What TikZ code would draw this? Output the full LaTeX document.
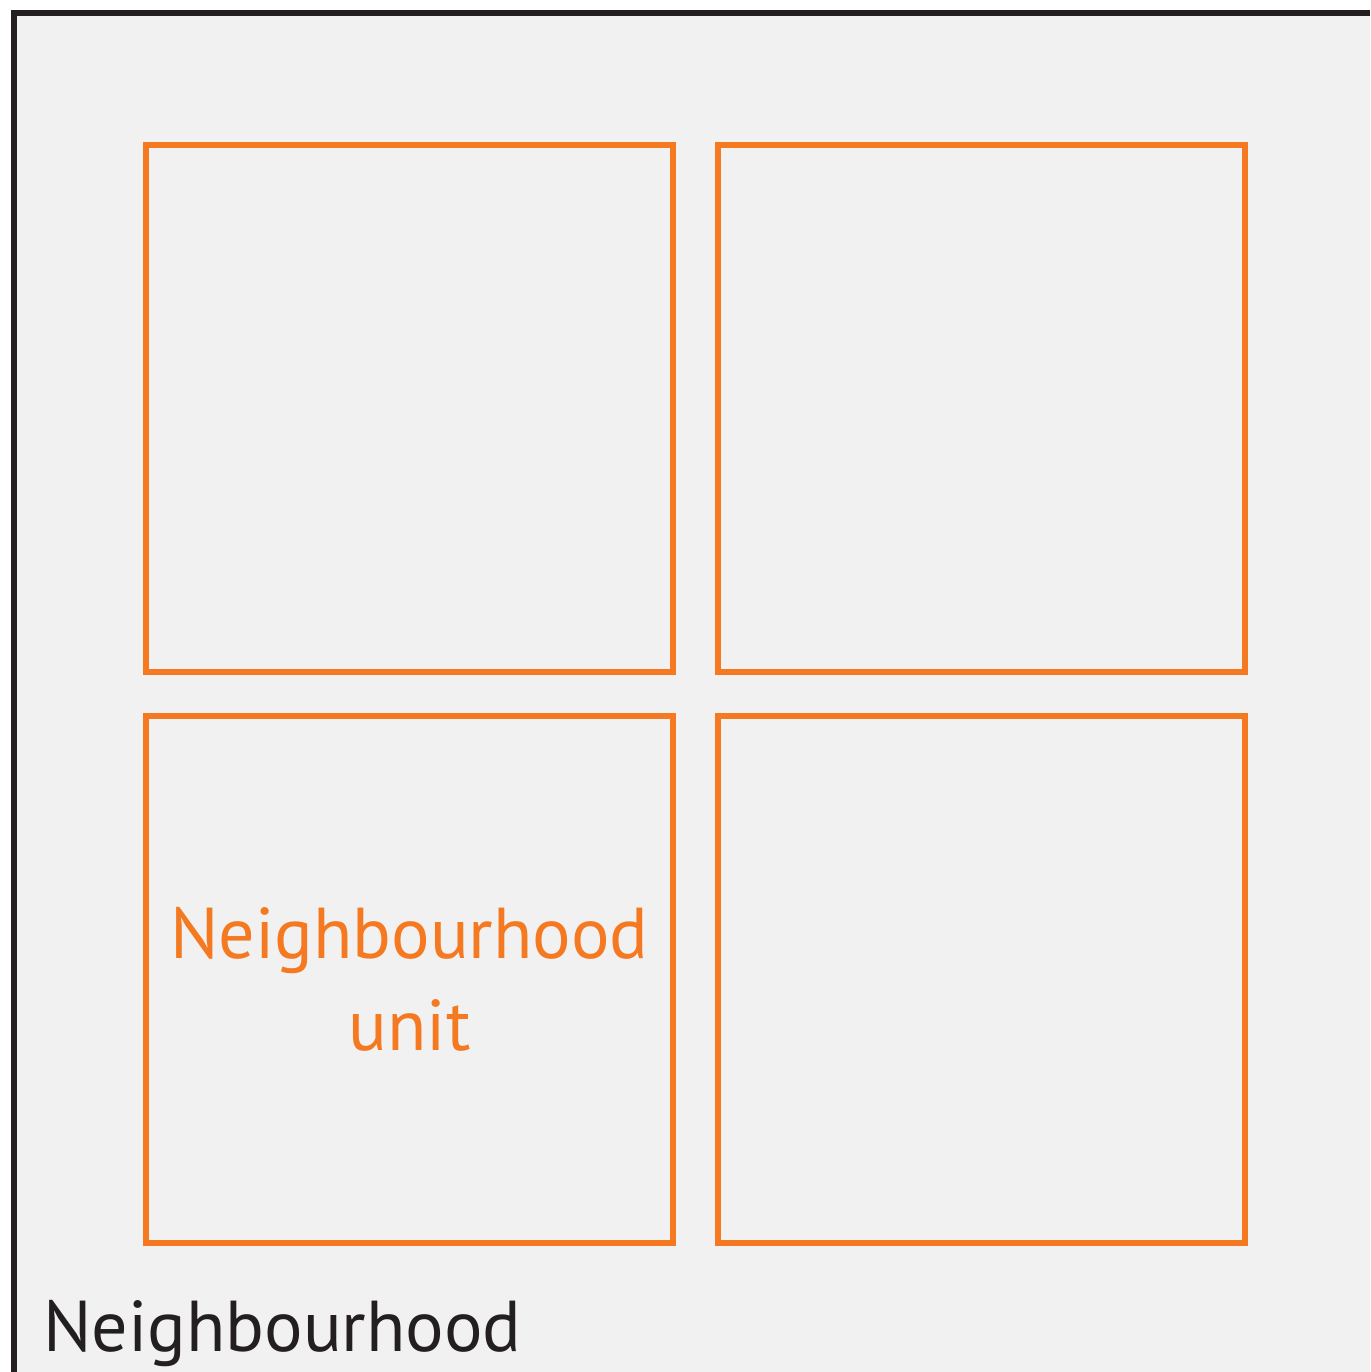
\documentclass[tikz,border=0pt]{standalone}
\usepackage{fontspec}
\setmainfont{PT Sans}
\usetikzlibrary{positioning}
\definecolor{unitorange}{RGB}{244,121,32}
\definecolor{hoodgrey}{RGB}{241,241,241}
\definecolor{hoodblack}{RGB}{35,31,32}

\begin{document}
\begin{tikzpicture}[x=1pt, y=1pt, node distance=44pt and 45pt,
  every node/.style={font=\fontsize{72}{92}\selectfont},
  unit/.style={draw=unitorange, line width=6pt, minimum size=527pt, inner sep=0pt, outer sep=0pt}]
\useasboundingbox (0,0) rectangle (1370,1372);
\fill[hoodgrey] (14,0) rectangle (1370,1359);
\draw[hoodblack, line width=6pt] (14,0) -- (14,1359) -- (1370,1359);
\node[unit] (nw) at (409.5,963.5) {};
\node[unit, right=of nw] (ne) {};
\node[unit, below=of nw, text=unitorange, align=center] (sw) {Neighbourhood\\unit};
\node[unit, right=of sw] (se) {};
\node[anchor=base west, inner sep=0pt, text=hoodblack] (hood) at (43,20) {Neighbourhood};
\end{tikzpicture}
\end{document}
